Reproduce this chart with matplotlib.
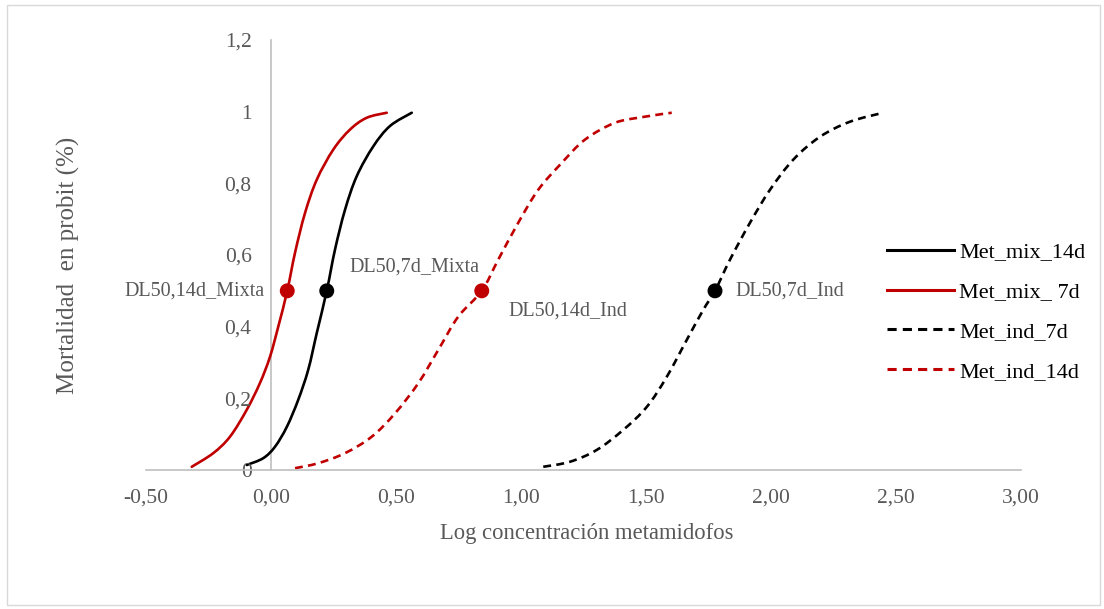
import matplotlib
matplotlib.use("Agg")
import matplotlib.pyplot as plt
from matplotlib.patches import Rectangle, PathPatch
from matplotlib.path import Path
from matplotlib.lines import Line2D
from matplotlib.ticker import FuncFormatter

plt.rcParams['font.family'] = ['Liberation Serif', 'DejaVu Serif']

# Probit curves: log concentration vs mortality
mix14_x = [-0.097, -0.031, 0.016, 0.063, 0.109, 0.149, 0.183, 0.223, 0.256, 0.296, 0.343, 0.409, 0.476, 0.563]
mix14_y = [0.014, 0.033, 0.065, 0.120, 0.196, 0.280, 0.382, 0.500, 0.615, 0.726, 0.820, 0.903, 0.960, 0.997]

mix7_x = [-0.317, -0.231, -0.164, -0.097, -0.044, -0.004, 0.029, 0.065, 0.096, 0.136, 0.183, 0.249, 0.316, 0.383, 0.463]
mix7_y = [0.009, 0.047, 0.093, 0.168, 0.243, 0.316, 0.400, 0.500, 0.606, 0.717, 0.810, 0.894, 0.950, 0.983, 0.997]

ind7_x = [1.089, 1.196, 1.303, 1.409, 1.503, 1.583, 1.663, 1.729, 1.776, 1.836, 1.916, 1.996, 2.089, 2.196, 2.316, 2.449]
ind7_y = [0.009, 0.023, 0.056, 0.112, 0.176, 0.260, 0.363, 0.447, 0.500, 0.587, 0.690, 0.782, 0.866, 0.930, 0.972, 0.997]

ind14_x = [0.096, 0.189, 0.296, 0.403, 0.496, 0.589, 0.669, 0.749, 0.843, 0.909, 0.989, 1.069, 1.163, 1.256, 1.376, 1.496, 1.603]
ind14_y = [0.005, 0.019, 0.047, 0.093, 0.158, 0.242, 0.335, 0.428, 0.500, 0.587, 0.690, 0.782, 0.857, 0.922, 0.969, 0.986, 0.997]

# DL50 points
dl50_labels = ["DL50,14d_Mixta", "DL50,7d_Mixta", "DL50,14d_Ind", "DL50,7d_Ind"]
dl50_x = [0.065, 0.223, 0.843, 1.776]
dl50_y = [0.5, 0.5, 0.5, 0.5]

RED = "#C00000"
GREY_TXT = "#595959"
AXIS_COL = "#BFBFBF"
DASH = (0, (3, 2))
LW = 1.9


def smooth_path(xs, ys):
    # Excel-style smoothed line: cubic Bezier segments through the points
    pts = list(zip(xs, ys))
    n = len(pts)
    verts = [pts[0]]
    codes = [Path.MOVETO]
    for i in range(n - 1):
        p0 = pts[i - 1] if i > 0 else pts[i]
        p1, p2 = pts[i], pts[i + 1]
        p3 = pts[i + 2] if i + 2 < n else pts[i + 1]
        c1 = (p1[0] + (p2[0] - p0[0]) / 6, p1[1] + (p2[1] - p0[1]) / 6)
        c2 = (p2[0] - (p3[0] - p1[0]) / 6, p2[1] - (p3[1] - p1[1]) / 6)
        verts += [c1, c2, p2]
        codes += [Path.CURVE4] * 3
    return Path(verts, codes)


fig = plt.figure(figsize=(11.04, 6.09), dpi=100)
fig.patches.append(Rectangle((0.006, 0.007), 0.99, 0.985, transform=fig.transFigure,
                             fill=False, edgecolor="#D9D9D9", linewidth=1))
ax = fig.add_axes([146 / 1104, 1 - 470 / 609, 875 / 1104, 430 / 609])

series = [
    (mix14_x, mix14_y, "black", "-", "Met_mix_14d"),
    (mix7_x, mix7_y, RED, "-", "Met_mix_ 7d"),
    (ind7_x, ind7_y, "black", DASH, "Met_ind_7d"),
    (ind14_x, ind14_y, RED, DASH, "Met_ind_14d"),
]
handles = []
for xs, ys, col, ls, lab in series:
    ax.add_patch(PathPatch(smooth_path(xs, ys), fill=False, edgecolor=col, lw=LW,
                           linestyle=ls, capstyle="round" if ls == "-" else "butt"))
    handles.append(Line2D([], [], color=col, lw=2.2, linestyle=ls, label=lab))

dot_cols = [RED, "black", RED, "black"]
ax.scatter(dl50_x, dl50_y, s=95, c=dot_cols, zorder=5)

offsets = [(-16, 0), (16, 17), (19, -14.5), (15, 0)]
aligns = ["right", "left", "left", "left"]
for lab, x, y, off, ha in zip(dl50_labels, dl50_x, dl50_y, offsets, aligns):
    ax.annotate(lab, (x, y), xytext=off, textcoords="offset points",
                ha=ha, va="center", fontsize=14.5, color=GREY_TXT)

ax.set_xlim(-0.5, 3.0)
ax.set_ylim(0, 1.2)
ax.set_xticks([-0.5, 0, 0.5, 1.0, 1.5, 2.0, 2.5, 3.0])
ax.set_yticks([0, 0.2, 0.4, 0.6, 0.8, 1.0, 1.2])
ax.xaxis.set_major_formatter(FuncFormatter(lambda v, p: f"{v:.2f}".replace(".", ",")))
ax.yaxis.set_major_formatter(FuncFormatter(lambda v, p: f"{v:g}".replace(".", ",")))

for s in ["top", "right"]:
    ax.spines[s].set_visible(False)
ax.spines["left"].set_position(("data", 0))
for s in ["left", "bottom"]:
    ax.spines[s].set_color(AXIS_COL)
    ax.spines[s].set_linewidth(1.2)
ax.spines["left"].set_zorder(0)
ax.tick_params(axis="both", length=0, labelsize=15.5, labelcolor=GREY_TXT)
ax.tick_params(axis="y", pad=14)
ax.tick_params(axis="x", pad=13)
ax.patch.set_alpha(0)

fig.text(587 / 1104, 1 - 533 / 609, "Log concentración metamidofos", ha="center", va="center",
         fontsize=16.3, color=GREY_TXT)
fig.text(68 / 1104, 1 - 265 / 609, "Mortalidad  en probit (%)", ha="center", va="center",
         rotation=90, fontsize=18, color=GREY_TXT)

fig.legend(handles=handles, loc="upper left", bbox_to_anchor=(878 / 1104, 1 - 233 / 609),
           frameon=False, fontsize=16, handlelength=3.0, handletextpad=0.25,
           labelspacing=0.87, borderaxespad=0)

fig.savefig("out.png", dpi=100)
